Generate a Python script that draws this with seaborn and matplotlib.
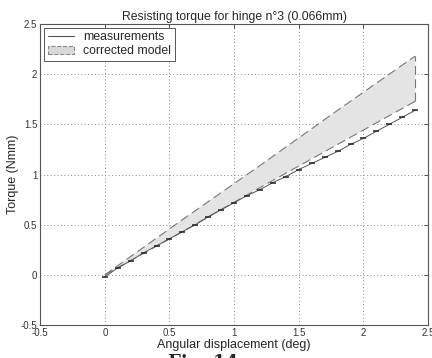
import numpy as np
import pandas as pd
import matplotlib
matplotlib.use("Agg")
import matplotlib.pyplot as plt
import seaborn as sns
from matplotlib.patches import Patch
from matplotlib.lines import Line2D

# ---- data ----
meas_x = [0.0, 0.1, 0.2, 0.3, 0.4, 0.5, 0.6, 0.7, 0.8, 0.9, 1.0, 1.1, 1.2,
          1.3, 1.4, 1.5, 1.6, 1.7, 1.8, 1.9, 2.0, 2.1, 2.2, 2.3, 2.4]
meas_y = [-0.02, 0.07, 0.14, 0.22, 0.29, 0.36, 0.43, 0.50, 0.58, 0.65, 0.72,
          0.79, 0.85, 0.92, 0.98, 1.05, 1.11, 1.17, 1.23, 1.30, 1.36, 1.43,
          1.50, 1.57, 1.64]
model_x = [0.0, 0.6, 1.2, 1.8, 2.4]
model_upper = [0.0, 0.55, 1.09, 1.64, 2.18]
model_lower = [0.0, 0.43, 0.87, 1.30, 1.73]
xticks = [-0.5, 0, 0.5, 1, 1.5, 2, 2.5]
yticks = [-0.5, 0, 0.5, 1, 1.5, 2, 2.5]
title = "Resisting torque for hinge n\u00b03 (0.066mm)"
xlabel = "Angular displacement (deg)"
ylabel = "Torque (Nmm)"
legend_labels = ["measurements", "corrected model"]

sns.set_style("white")
plt.rcParams['font.family'] = ['Liberation Sans', 'DejaVu Sans']

fig = plt.figure(figsize=(4.32, 3.58), dpi=100)
ax = fig.add_axes([0.093, 0.092, 0.898, 0.841])

# model band
ax.fill_between(model_x, model_lower, model_upper, facecolor="#e4e4e4",
                edgecolor="none", zorder=2)
dash = (0, (8, 4))
ax.plot(model_x, model_upper, color="#777777", lw=0.8, ls=dash, zorder=3)
ax.plot(model_x, model_lower, color="#777777", lw=0.8, ls=dash, zorder=3)
ax.plot([model_x[-1], model_x[-1]], [model_lower[-1], model_upper[-1]],
        color="#777777", lw=0.8, ls=dash, zorder=3)

df = pd.DataFrame({"x": meas_x, "y": meas_y})
sns.lineplot(data=df, x="x", y="y", ax=ax, color="#555555", lw=0.7,
             marker="_", markersize=5, markeredgewidth=1.1,
             markeredgecolor="#222222", zorder=4)

ax.set_xlim(-0.5, 2.5)
ax.set_ylim(-0.5, 2.5)
ax.set_xticks(xticks)
ax.set_yticks(yticks)
ax.set_xticklabels([f"{v:g}" for v in xticks], fontsize=7)
ax.set_yticklabels([f"{v:g}" for v in yticks], fontsize=7)
ax.tick_params(direction="in", length=3, width=0.6, top=True, right=True,
               colors="#333333", pad=2)
ax.grid(True, ls=(0, (1, 2.5)), color="#888888", lw=0.7)
for s in ax.spines.values():
    s.set_visible(True)
    s.set_color("#555555")
    s.set_linewidth(0.8)

ax.set_title(title, fontsize=8.8, pad=3)
ax.set_xlabel(xlabel, fontsize=9, labelpad=1)
ax.set_ylabel(ylabel, fontsize=9, labelpad=1)

handles = [Line2D([0], [0], color="#555555", lw=0.8),
           Patch(facecolor="#d8d8d8", edgecolor="#888888", ls="--", lw=0.8)]
leg = ax.legend(handles, legend_labels, loc="upper left", fontsize=8.8,
                frameon=True, fancybox=False, framealpha=1, borderpad=0.3,
                labelspacing=0.15, handlelength=2.2, handletextpad=0.7,
                borderaxespad=0.3)
leg.get_frame().set_edgecolor("#555555")
leg.get_frame().set_linewidth(0.7)

fig.text(0.39, -0.04, "Fig. 14", fontsize=13, fontweight="bold",
         family="DejaVu Serif", va="bottom", ha="left")

fig.savefig("out.png", dpi=100)
